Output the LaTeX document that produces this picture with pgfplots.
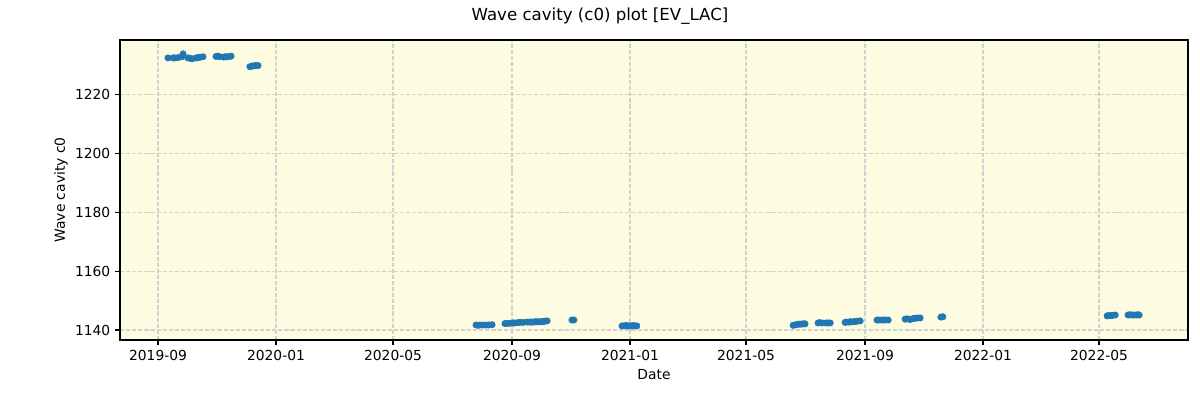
\documentclass[border=0pt]{standalone}
\usepackage{pgfplots}
\pgfplotsset{compat=1.18}
\usepackage{fontspec}
\setmainfont{DejaVu Sans}
\definecolor{mplblue}{HTML}{1F77B4}
\definecolor{bgyellow}{RGB}{253,252,225}
\definecolor{gridgray}{RGB}{210,210,210}
\begin{document}
\begin{tikzpicture}
\begin{axis}[
  name=ax,
  scale only axis,
  width=10.68in, height=3in,
  xmin=-39.3, xmax=1065,
  ymin=1136.6, ymax=1238.7,
  axis background/.style={fill=bgyellow},
  xtick={0,122,243,366,488,608,731,853,973},
  xticklabels={2019-09,2020-01,2020-05,2020-09,2021-01,2021-05,2021-09,2022-01,2022-05},
  ytick={1140,1160,1180,1200,1220},
  /pgf/number format/assume math mode=true,
  /pgf/number format/1000 sep={},
  tick label style={font=\fontsize{10}{12}\selectfont},
  tick align=outside,
  major tick length=3.5pt,
  tick style={black, line width=0.8pt},
  xtick pos=bottom, ytick pos=left,
  axis line style={line width=0.8pt},
  grid=major,
  major grid style={gridgray, dash pattern=on 3pt off 1.4pt, line width=0.8pt},
  clip=false,
]
\addplot[only marks, mark=*, mark size=2.3pt, mplblue, mark options={draw=mplblue, fill=mplblue}] coordinates {
(10.3,1232.6) (15.5,1232.6) (17.5,1232.6) (20.7,1232.7) (24.8,1233.0) (25.9,1234.0)
(31,1232.6) (33,1232.5) (35.2,1232.3) (39.3,1232.6) (41,1232.7) (43.4,1232.8) (46.5,1233.0)
(60,1233.1) (62,1233.2) (64,1233.0) (68,1232.9) (70,1233.0) (72.4,1233.0) (75.5,1233.2)
(95,1229.6) (97,1229.8) (99,1229.9) (101,1230.0) (103.4,1230.0)
(328.9,1141.7) (331,1141.6) (333,1141.7) (336,1141.7) (339,1141.7) (342,1141.7) (345.4,1141.8)
(358.8,1142.2) (361,1142.2) (364,1142.3) (367,1142.4) (369,1142.4) (372,1142.5) (374.4,1142.6) (377.5,1142.6)
(381.6,1142.7) (384,1142.7) (385.7,1142.7) (388,1142.7) (389.9,1142.8) (392,1142.8) (394,1142.8) (396,1142.8) (398,1142.9) (400,1143.0) (402.3,1143.1)
(428,1143.4) (430,1143.4)
(479.8,1141.4) (482,1141.4) (484,1141.5) (486,1141.4) (488,1141.4) (490,1141.4) (492,1141.5) (495,1141.4)
(656.7,1141.6) (659,1141.7) (660.8,1141.9) (663,1142.0) (665,1142.0) (667,1142.1) (669,1142.1)
(682.5,1142.4) (684,1142.5) (686.7,1142.4) (690.8,1142.4) (693,1142.4) (695,1142.4)
(710.4,1142.6) (712,1142.7) (714.6,1142.7) (716,1142.8) (718.7,1142.8) (721,1142.9) (722.9,1143.0) (726,1143.1)
(743.5,1143.4) (745,1143.4) (747.6,1143.4) (750,1143.4) (751.8,1143.4) (755,1143.4)
(772.5,1143.7) (774,1143.8) (776.6,1143.7) (778,1143.6) (780.8,1143.9) (783,1144.0) (785,1144.1) (788,1144.1)
(809.5,1144.4) (811.5,1144.5)
(981.4,1144.8) (983,1144.9) (985.5,1144.9) (987,1145.0) (989.7,1145.1)
(1003,1145.1) (1005,1145.2) (1007,1145.1) (1009,1145.1) (1011.4,1145.1) (1013,1145.2) (1014.5,1145.1)
};
\end{axis}
\node[font=\fontsize{12}{14}\selectfont] at ([shift={(4.8in,0.24in)}]ax.north west) {Wave cavity (c0) plot [EV\_LAC]};
\node[font=\fontsize{10}{12}\selectfont] at ([shift={(0,-0.35in)}]ax.south) {Date};
\node[font=\fontsize{10}{12}\selectfont, rotate=90] at ([shift={(-0.59in,0)}]ax.west) {Wave cavity c0};
\pgfresetboundingbox
\path ([shift={(-1.2in,-0.6in)}]ax.south west) rectangle ([shift={(0.12in,0.4in)}]ax.north east);
\end{tikzpicture}
\end{document}
